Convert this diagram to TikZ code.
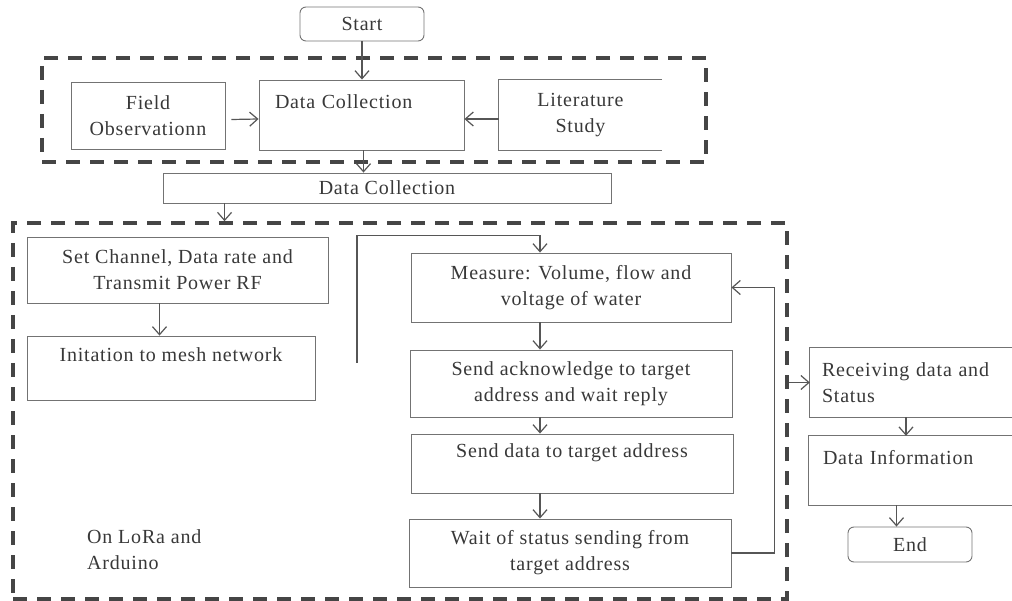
\documentclass[tikz,border=0pt]{standalone}
\usepackage{fontspec}
\setmainfont{Liberation Serif}[LetterSpace=4]
\usetikzlibrary{calc,arrows.meta}
\definecolor{linegray}{gray}{0.45}
\definecolor{txtgray}{gray}{0.22}
\definecolor{framegray}{gray}{0.27}
\tikzset{box/.style={draw=linegray, line width=0.9pt, inner sep=0pt, align=center, text=txtgray},
  openbox/.style={inner sep=0pt, align=left, text=txtgray},
  termbox/.style={box, rounded corners=6pt},
  frame/.style={draw=framegray, line width=3.5pt, dash pattern=on 14pt off 10pt, inner sep=0pt},
  arr/.style={draw=linegray!75!black, line width=1.2pt, -{Straight Barb[length=8pt,width=14pt]}}}

\begin{document}
\begin{tikzpicture}[x=1pt,y=-1pt,font=\fontsize{20}{26}\selectfont]
\useasboundingbox (0,0) rectangle (1012,601);
% frames
\node[frame, minimum width=664, minimum height=104] (top) at (374,110) {};
\node[frame, minimum width=774, minimum height=376] (lora) at (400,411) {};
% upper part
\node[termbox, minimum width=124, minimum height=34] (start) at (362,24) {Start};
\node[box, minimum width=154, minimum height=67] (field) at (148,115.5) {Field\\Observationn};
\node[box, align=left, text width=173, minimum width=205, minimum height=70] (dc) at (361.5,115) {Data Collection\\ \mbox{}};
\node[openbox, align=center, minimum width=163, minimum height=70] (lit) at (580.5,115) {Literature\\Study};
\node[box, minimum width=448, minimum height=30] (wide) at (387,188) {Data Collection};
% left column
\node[box, minimum width=301, minimum height=66] (set) at (177.5,270) {Set Channel, Data rate and\\Transmit Power RF};
\node[box, minimum width=288, minimum height=64] (init) at (171,368) {Initation to mesh network\\ \mbox{}};
\node[openbox, anchor=west] (note) at (87,550) {On LoRa and\\Arduino};
% right column
\node[box, minimum width=320, minimum height=69] (meas) at (571,287.5) {Measure: Volume, flow and\\voltage of water};
\node[box, minimum width=322, minimum height=67] (ack) at (571,383.5) {Send acknowledge to target\\address and wait reply};
\node[box, minimum width=322, minimum height=59] (send) at (572,463.5) {Send data to target address\\ \mbox{}};
\node[box, minimum width=322, minimum height=68] (wait) at (570,553) {Wait of status sending from\\target address};
% receiver
\node[openbox, text width=178, minimum width=202, minimum height=69] (recv) at (911,382.5) {Receiving data and\\Status};
\node[openbox, text width=175, minimum width=203, minimum height=69] (info) at (910.5,470.5) {Data Information\\ \mbox{}};
\node[termbox, minimum width=124, minimum height=35] (end) at (910,544.5) {End};
\foreach \n in {lit,recv,info}{\draw[draw=linegray, line width=0.9pt] (\n.north east) -- (\n.north west) -- (\n.south west) -- (\n.south east);}
% connectors
\draw[arr] (start.south) -- (start.south |- dc.north);
\draw[arr] ([xshift=6pt,yshift=-4pt]field.east) -- ([yshift=-4pt]dc.west);
\draw[arr] ([yshift=-4pt]lit.west) -- ([yshift=-4pt]dc.east);
\draw[arr] ([xshift=2pt]dc.south) -- ([xshift=2pt]dc.south |- wide.north);
\coordinate (drop) at ([xshift=62pt]wide.south west);
\draw[arr] (drop) -- (drop |- lora.north);
\draw[arr] ([xshift=-18pt]set.south) -- ([xshift=-18pt]set.south |- init.north);
\coordinate (loopend) at (357,363);
\draw[arr] (loopend) |- ($(meas.north)+(-31,-17)$) -- ([xshift=-31pt]meas.north);
\draw[arr] ([xshift=-31pt]meas.south) -- ([xshift=-31pt]meas.south |- ack.north);
\draw[arr] ([xshift=-31pt]ack.south) -- ([xshift=-31pt]ack.south |- send.north);
\draw[arr] ([xshift=-32pt]send.south) -- ([xshift=-32pt]send.south |- wait.north);
\draw[arr] (wait.east) -- ++(43,0) |- (meas.east);
\draw[arr] (lora.east |- recv.west) -- (recv.west);
\draw[arr] ([xshift=-5pt]recv.south) -- ([xshift=-5pt]recv.south |- info.north);
\draw[arr] ([xshift=-14pt]info.south) -- ([xshift=-14pt]info.south |- end.north);
\end{tikzpicture}
\end{document}
